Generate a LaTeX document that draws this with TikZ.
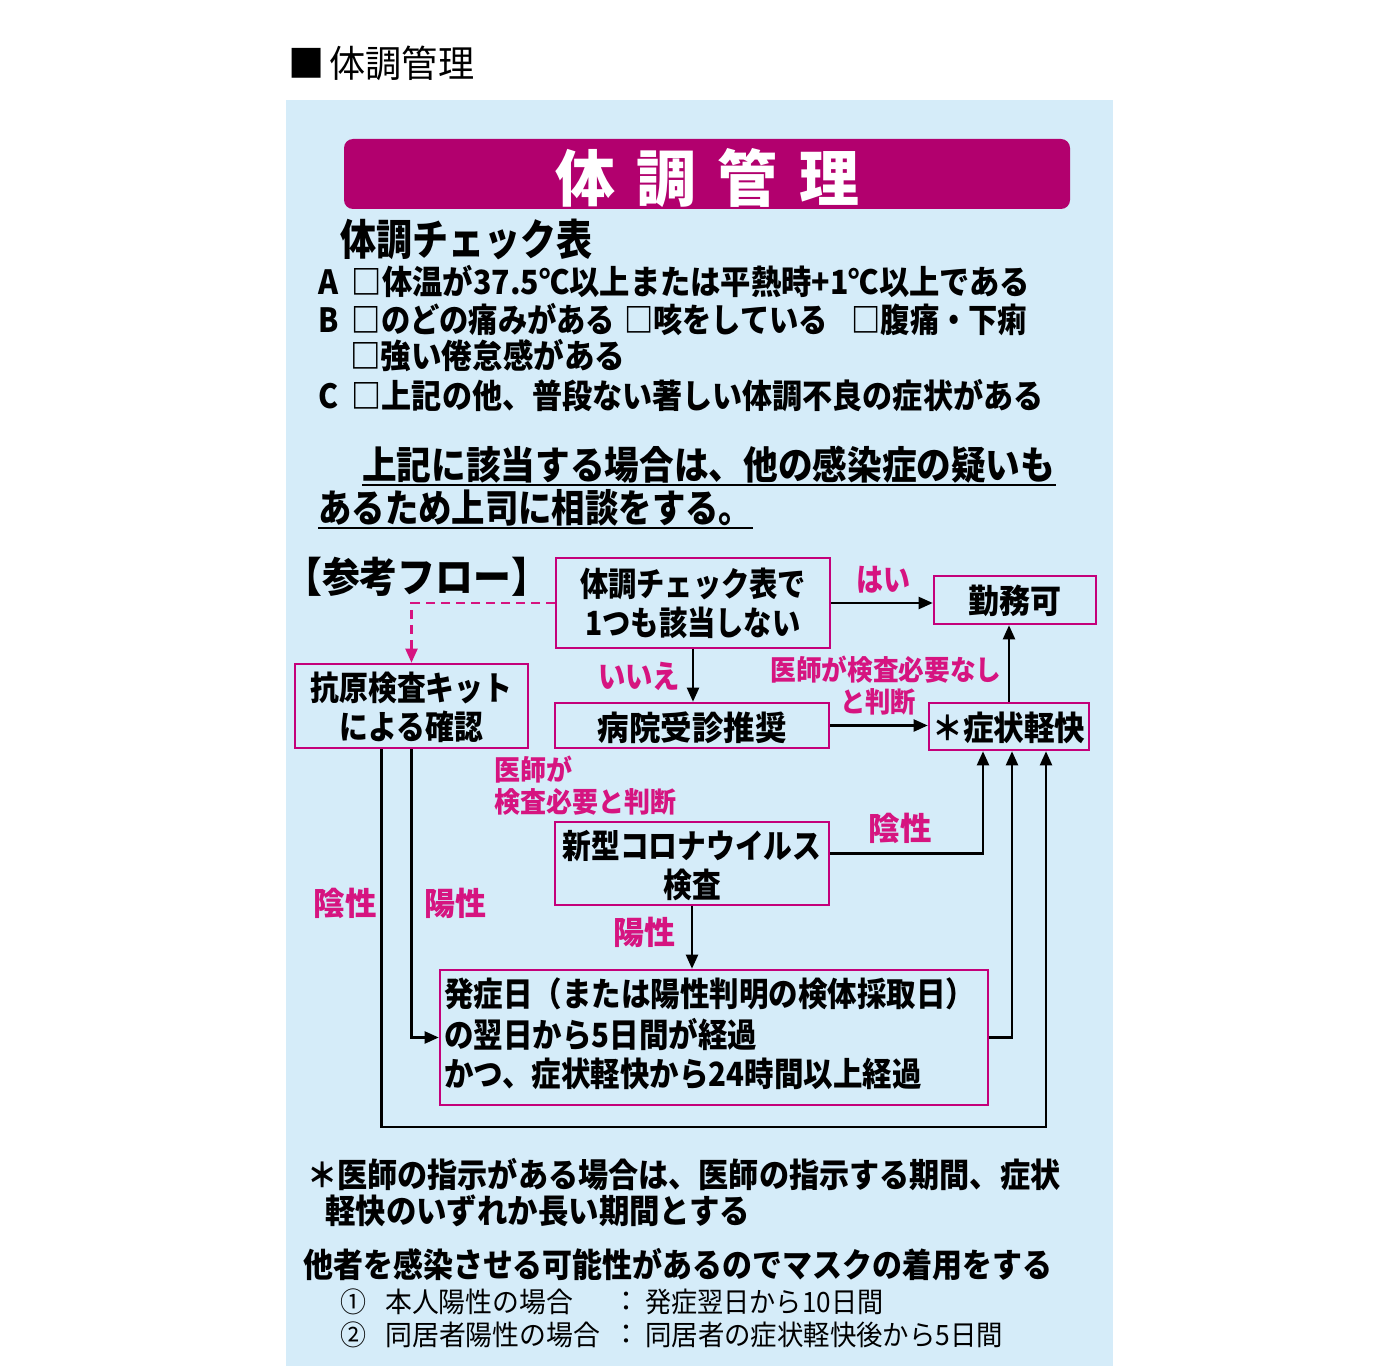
\documentclass[tikz,border=0pt]{standalone}
\usepackage{fontspec}
\setmainfont{Noto Sans CJK JP}
\usepackage{graphicx}
\usetikzlibrary{arrows.meta}
\newlength\px \setlength\px{0.75pt}
\newcommand\fitw[2]{\resizebox{#1\px}{\height}{#2}}
\newcommand\dn[2]{\raisebox{-#1\px}[\height][\depth]{#2}}
\newcommand\tl[1]{\begin{tabular}{@{}c@{}}#1\end{tabular}}
\newcommand\tll[1]{\begin{tabular}{@{}l@{}}#1\end{tabular}}
\definecolor{bg}{RGB}{213,236,249}
\definecolor{bar}{RGB}{178,0,110}
\definecolor{bm}{RGB}{196,0,122}
\definecolor{lm}{RGB}{214,20,128}
\tikzset{
 box/.style={draw=bm, line width=1.95pt, inner sep=0pt},
 conn/.style={line width=1.65pt, -{Triangle[length=10.5pt,width=9pt]}},
 lab/.style={text=lm, inner sep=0pt, font=\bfseries\fontsize{24}{24}\selectfont},
 slab/.style={text=lm, inner sep=0pt, font=\bfseries\fontsize{21}{21}\selectfont},
 txt/.style={anchor=west, inner sep=0pt},
 btxt/.style={font=\bfseries\fontsize{25}{27.5}\selectfont},
}
\begin{document}
\begin{tikzpicture}[x=0.75pt,y=-0.75pt]
\useasboundingbox (0,0) rectangle (1400,1366);
\fill[white] (0,0) rectangle (1400,1366);
\fill[bg] (286,100) rectangle (1113,1366);
% header
\node[txt, font=\fontsize{28}{28}\selectfont] (hdr) at (288,63) {\fitw{186}{■\hspace{4pt}体調管理}};
% title bar
\node[fill=bar, rounded corners=6.75pt, minimum width=544.5pt, minimum height=52.5pt, inner sep=0pt] (bar) at (707,174) {};
\node[text=white, inner sep=0pt, font=\bfseries\fontsize{46}{46}\selectfont] (ttl) at (707,178) {\fitw{304}{体\hspace{16.5pt}調\hspace{16.5pt}管\hspace{16.5pt}理}};
% check table
\node[txt, font=\bfseries\fontsize{32}{32}\selectfont] (ct) at (340,239) {\fitw{252}{体調チェック表}};
\node[txt, font=\bfseries\fontsize{25}{25}\selectfont] (la) at (318,281) {\fitw{712}{A\hspace{0.45em}□体温が37.5℃以上または平熱時+1℃以上である}};
\node[txt, font=\bfseries\fontsize{25}{25}\selectfont] (lb) at (318,320) {\fitw{709}{B\hspace{0.45em}□のどの痛みがある\hspace{0.3em}□咳をしている\hspace{0.8em}□腹痛・下痢}};
\node[txt, font=\bfseries\fontsize{25}{25}\selectfont] (lb2) at (350,356) {\fitw{275}{□強い倦怠感がある}};
\node[txt, font=\bfseries\fontsize{25}{25}\selectfont] (lc) at (318,396) {\fitw{725}{C\hspace{0.45em}□上記の他、普段ない著しい体調不良の症状がある}};
% underlined
\node[txt, font=\bfseries\fontsize{29}{29}\selectfont] (u1) at (362,465) {\fitw{693}{上記に該当する場合は、他の感染症の疑いも}};
\node[txt, font=\bfseries\fontsize{29}{29}\selectfont] (u2) at (318,508) {\fitw{434}{あるため上司に相談をする。}};
\draw[line width=1.65pt] ([yshift=-3.75pt]u1.base west) -- ([yshift=-3.75pt]u1.base east);
\draw[line width=1.65pt] ([yshift=-3.75pt]u2.base west) -- ([yshift=-3.75pt]u2.base east);
% flow title
\node[txt, font=\bfseries\fontsize{31}{31}\selectfont] (ft) at (284,577) {\fitw{265}{【参考フロー】}};
% boxes
\node[box, btxt, minimum width=205.5pt, minimum height=67.5pt] (b1) at (693,603) {\dn{4}{\fitw{226}{\tl{体調チェック表で\\1つも該当しない}}}};
\node[box, btxt, minimum width=121.5pt, minimum height=36pt] (b2) at (1015,600) {\dn{1}{\fitw{93}{勤務可}}};
\node[box, btxt, minimum width=174.75pt, minimum height=63pt] (b3) at (411.5,706) {\dn{5}{\fitw{202}{\tl{抗原検査キット\\による確認}}}};
\node[box, btxt, minimum width=205.5pt, minimum height=33.75pt] (b4) at (692,725.5) {\dn{2}{\fitw{189}{病院受診推奨}}};
\node[box, btxt, minimum width=120pt, minimum height=35.25pt] (b5) at (1009,726.5) {\dn{1}{\fitw{153}{＊症状軽快}}};
\node[box, btxt, minimum width=205.5pt, minimum height=62.25pt] (b6) at (692,863.5) {\dn{6}{\fitw{259}{\tl{新型コロナウイルス\\検査}}}};
\node[box, btxt, minimum width=411pt, minimum height=101.25pt] (b7) at (714,1037.5) {};
\node[txt, btxt] (b7t) at (444,1038) {\fitw{531}{\tll{発症日（または陽性判明の検体採取日）\\の翌日から5日間が経過\\かつ、症状軽快から24時間以上経過}}};
% connectors
\draw[conn] (b1.east) -- (b1.east -| b2.west);
\draw[conn] (b1.south) -- (b1.south |- b4.north);
\draw[line width=1.65pt, dash pattern=on 6.75pt off 4.5pt, -{Triangle[length=10.5pt,width=9pt]}, color=lm] (b1.west) -| (b3.north);
\draw[conn] (b4.east) -- (b4.east -| b5.west);
\draw[conn] (b5.north) -- (b5.north |- b2.south);
\draw[conn] ([yshift=7.5pt]b6.east) -| ([xshift=-19.5pt]b5.south);
\draw[conn] (b6.south) -- (b6.south |- b7.north);
\draw[conn] (b7.east) -| ([xshift=2.25pt]b5.south);
\coordinate (c2) at (1046,1127);
\draw[conn] ([xshift=-22.5pt]b3.south) |- (c2) -- (c2 |- b5.south);
\draw[conn] (b3.south) |- (b7.west);
% labels
\node[lab] (l1) at (883,580) {\fitw{54}{はい}};
\node[lab] (l2) at (639,676) {\fitw{82}{いいえ}};
\node[slab] (l3) at (886,670) {\fitw{231}{医師が検査必要なし}};
\node[slab] (l4) at (878,702) {\fitw{76}{と判断}};
\node[slab, anchor=west] (l5) at (494,770) {\fitw{78}{医師が}};
\node[slab, anchor=west] (l6) at (494,802) {\fitw{182}{検査必要と判断}};
\node[lab] (l7) at (900,828) {\fitw{63}{陰性}};
\node[lab] (l8) at (644,932) {\fitw{62}{陽性}};
\node[lab] (l9) at (345,903) {\fitw{63}{陰性}};
\node[lab] (l10) at (455,903) {\fitw{62}{陽性}};
% notes
\node[txt, font=\bfseries\fontsize{25}{25}\selectfont] (n1) at (307,1175) {\fitw{753}{＊医師の指示がある場合は、医師の指示する期間、症状}};
\node[txt, font=\bfseries\fontsize{25}{25}\selectfont] (n2) at (325,1211) {\fitw{425}{軽快のいずれか長い期間とする}};
\node[txt, font=\bfseries\fontsize{25}{25}\selectfont] (n3) at (303,1265) {\fitw{749}{他者を感染させる可能性があるのでマスクの着用をする}};
\node[txt, font=\fontsize{21}{21}\selectfont] (i1) at (340,1302) {\fitw{26}{①}};
\node[txt, font=\fontsize{21}{21}\selectfont] (i1a) at (385,1302) {\fitw{188}{本人陽性の場合}};
\node[txt, font=\fontsize{21}{21}\selectfont] (i1b) at (612,1302) {：};
\node[txt, font=\fontsize{21}{21}\selectfont] (i1c) at (645,1302) {\fitw{238}{発症翌日から10日間}};
\node[txt, font=\fontsize{21}{21}\selectfont] (i2) at (340,1335) {\fitw{26}{②}};
\node[txt, font=\fontsize{21}{21}\selectfont] (i2a) at (385,1335) {\fitw{215}{同居者陽性の場合}};
\node[txt, font=\fontsize{21}{21}\selectfont] (i2b) at (612,1335) {：};
\node[txt, font=\fontsize{21}{21}\selectfont] (i2c) at (645,1335) {\fitw{358}{同居者の症状軽快後から5日間}};
\end{tikzpicture}
\end{document}
